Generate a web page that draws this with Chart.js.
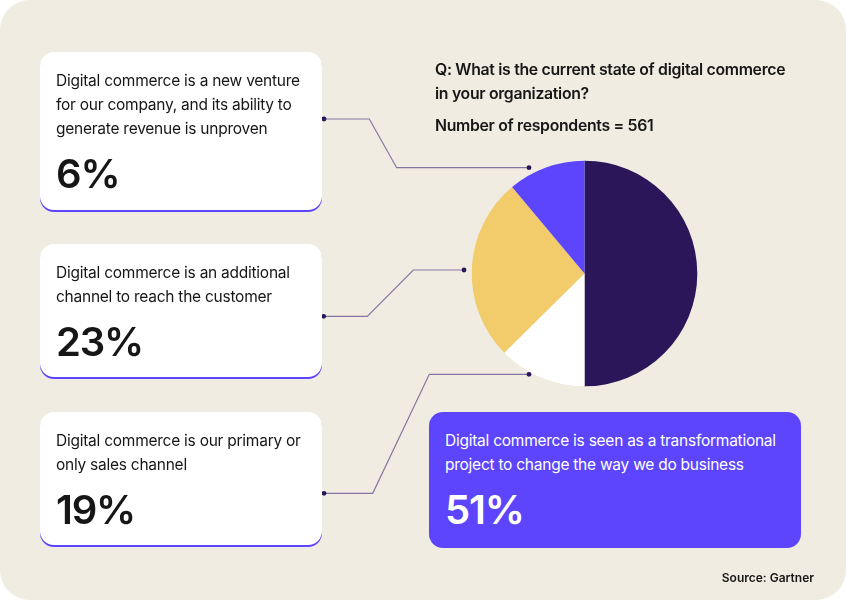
<!DOCTYPE html>
<html>
<head>
<meta charset="utf-8">
<script src="https://cdn.jsdelivr.net/npm/chart.js@4.4.1/dist/chart.umd.min.js"></script>
<style>
  html, body { margin: 0; padding: 0; background: #ffffff; }
  #page { position: absolute; left: 0; top: 0; width: 846px; height: 600px; background: #f1ece2; border-radius: 30px; overflow: hidden; font-family: Inter, "Noto Sans", sans-serif; }
  #chart { position: absolute; left: 0; top: 0; }
  .card { position: absolute; background: #ffffff; border-radius: 14px; box-shadow: 0 2px 0 #5c45fd; box-sizing: border-box; padding: 0 16px; color: #161616; }
  .card.hl { background: #5c45fd; color: #ffffff; box-shadow: none; }
  .card .txt { font-size: 15.5px; line-height: 24px; margin-top: 17px; letter-spacing: -0.25px; white-space: nowrap; }
  .card .pct { font-size: 40px; font-weight: 600; line-height: 40px; margin-top: 13px; letter-spacing: -1.2px; }
  #title { position: absolute; left: 435px; top: 58px; font-size: 15.8px; font-weight: 600; line-height: 24px; color: #161616; letter-spacing: -0.3px; white-space: nowrap; }
  #resp { position: absolute; left: 435px; top: 114px; font-size: 15.8px; font-weight: 600; line-height: 24px; color: #161616; letter-spacing: -0.3px; white-space: nowrap; }
  #source { position: absolute; right: 32px; top: 570px; font-size: 12px; font-weight: 600; color: #161616; }
</style>
</head>
<body>
<div id="page">
  <canvas id="chart" width="846" height="600"></canvas>
  <div id="title">Q: What is the current state of digital commerce<br>in your organization?</div>
  <div id="resp">Number of respondents = 561</div>
  <div id="source">Source: Gartner</div>
</div>
<script>
// ---- data ----
const categories = [
  "Digital commerce is seen as a transformational project to change the way we do business",
  "Digital commerce is our primary or only sales channel",
  "Digital commerce is an additional channel to reach the customer",
  "Digital commerce is a new venture for our company, and its ability to generate revenue is unproven"
];
// shares of the circle as drawn in the pie
const sliceValues = [50, 12.6, 26.3, 11.1];
// percentages printed in the callout cards
const labelPercents = [51, 19, 23, 6];
const cardLines = [
  ["Digital commerce is seen as a transformational", "project to change the way we do business"],
  ["Digital commerce is our primary or", "only sales channel"],
  ["Digital commerce is an additional", "channel to reach the customer"],
  ["Digital commerce is a new venture", "for our company, and its ability to", "generate revenue is unproven"]
];
const sliceColors = ["#2a1658", "#ffffff", "#f2cb6a", "#5c45fd"];

// ---- cards (layout) ----
const cardBoxes = [
  { left: 429, top: 412, width: 372, height: 136, hl: true },
  { left: 40, top: 412, width: 282, height: 133 },
  { left: 40, top: 244, width: 282, height: 133 },
  { left: 40, top: 52, width: 282, height: 158 }
];
const page = document.getElementById('page');
cardBoxes.forEach((b, i) => {
  const d = document.createElement('div');
  d.className = 'card' + (b.hl ? ' hl' : '');
  d.style.left = b.left + 'px'; d.style.top = b.top + 'px';
  d.style.width = b.width + 'px'; d.style.height = b.height + 'px';
  const t = document.createElement('div');
  t.className = 'txt';
  t.innerHTML = cardLines[i].join('<br>');
  const p = document.createElement('div');
  p.className = 'pct';
  p.textContent = labelPercents[i] + '%';
  d.appendChild(t); d.appendChild(p);
  page.appendChild(d);
});

// ---- leader lines (annotation paths) ----
const leaders = [
  [[529, 374.3], [429.3, 374.3], [372.7, 493.3], [324, 493.3]],
  [[464, 270], [413.3, 270], [367.3, 316.3], [323.7, 316.3]],
  [[529, 167.7], [396.7, 167.7], [369.3, 119], [324, 119]]
];
const leaderPlugin = {
  id: 'leaders',
  afterDraw(chart) {
    const ctx = chart.ctx;
    ctx.save();
    leaders.forEach(path => {
      ctx.beginPath();
      path.forEach((p, j) => j ? ctx.lineTo(p[0], p[1]) : ctx.moveTo(p[0], p[1]));
      ctx.strokeStyle = 'rgba(60,40,120,0.6)';
      ctx.lineWidth = 1.2;
      ctx.stroke();
      [path[0], path[path.length - 1]].forEach(p => {
        ctx.beginPath();
        ctx.arc(p[0], p[1], 2.4, 0, Math.PI * 2);
        ctx.fillStyle = '#2a1658';
        ctx.fill();
      });
    });
    ctx.restore();
  }
};

new Chart(document.getElementById('chart'), {
  type: 'pie',
  data: {
    labels: categories,
    datasets: [{ data: sliceValues, backgroundColor: sliceColors, borderWidth: 0 }]
  },
  options: {
    responsive: false,
    animation: false,
    devicePixelRatio: 1,
    layout: { padding: { left: 471.7, right: 148.7, top: 160.7, bottom: 213.7 } },
    plugins: { legend: { display: false }, tooltip: { enabled: false } }
  },
  plugins: [leaderPlugin]
});
</script>
</body>
</html>
